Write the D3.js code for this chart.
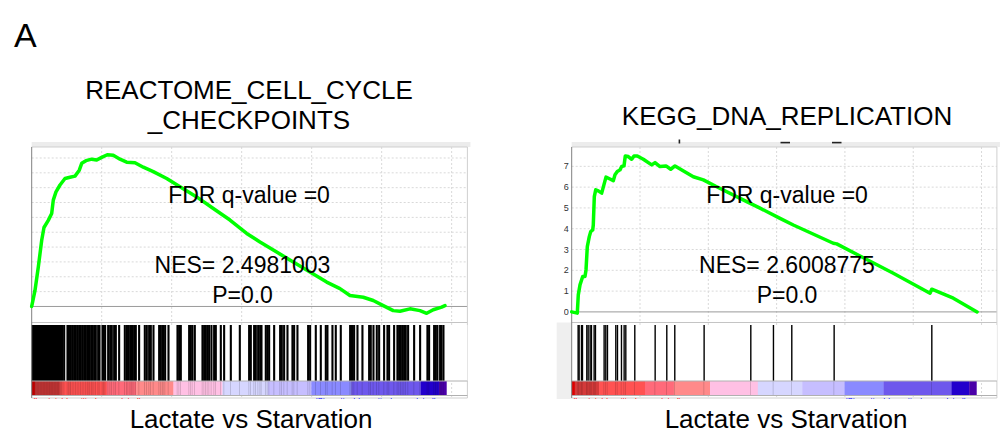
<!DOCTYPE html>
<html>
<head>
<meta charset="utf-8">
<script src="https://cdnjs.cloudflare.com/ajax/libs/d3/7.8.5/d3.min.js"></script>
<style>
  body { margin: 0; background: #fff; }
  svg { display: block; font-family: "Liberation Sans", Arial, sans-serif; }
</style>
</head>
<body>
<svg id="fig" width="1001" height="437"></svg>
<script>
// ranked list length and axis end (ranks)
const listSize = 11850;
const axisMax = 12450;

// colour band of the ranked list (same list for both plots)
const bandEdges = [0, 90, 800, 2145, 2990, 4050, 5450, 6750, 7990, 9130, 11120, 11640, 11850];
const bandColors = ['#dd0000', '#d43a3a', '#ff5252', '#ff6a7a', '#ff8a8a', '#ffc0e4',
                    '#d6d6ff', '#c6beff', '#8a8aff', '#6e58ec', '#2200cc', '#4a00a8'];

// REACTOME_CELL_CYCLE_CHECKPOINTS: running ES [rank, ES]
const esReactome = [
  [0, 0], [94, 0.054], [189, 0.133], [286, 0.223], [351, 0.266], [474, 0.29], [571, 0.313],
  [617, 0.358], [694, 0.386], [809, 0.409], [951, 0.431], [1094, 0.435], [1237, 0.439],
  [1360, 0.459], [1429, 0.482], [1551, 0.491], [1714, 0.496], [1857, 0.493], [2000, 0.502],
  [2160, 0.511], [2331, 0.509], [2523, 0.496], [2714, 0.486], [2951, 0.484], [3189, 0.469],
  [3474, 0.454], [3857, 0.431], [4237, 0.403], [4714, 0.369], [5189, 0.33], [5666, 0.291],
  [6143, 0.246], [6523, 0.217], [7000, 0.183], [7474, 0.15], [7951, 0.116], [8429, 0.082],
  [8809, 0.06], [9094, 0.037], [9474, 0.031], [9760, 0.02], [10046, 0.003], [10331, -0.014],
  [10523, -0.016], [10809, -0.008], [11094, -0.014], [11286, -0.023], [11474, -0.011],
  [11714, -0.002], [11809, 0.003]
];
const hitsReactome = [
  0, 20, 45, 70, 95, 120, 150, 175, 200, 230, 255, 280, 310, 335, 360, 390, 415, 440, 470,
  495, 520, 550, 575, 600, 630, 655, 680, 710, 735, 760, 790, 815, 830,
  857, 905, 1000, 1038, 1076, 1095, 1143, 1190, 1238, 1285, 1333, 1381, 1428, 1476, 1524,
  1571, 1600, 1638, 1686, 1714, 1762, 1809, 1876, 1914, 2000, 2038, 2076, 2162, 2219, 2266,
  2333, 2381, 2476, 2638, 2695, 2733, 2790, 2828, 2857, 2905, 2952, 3047, 3209, 3266, 3333,
  3381, 3457, 3619, 3666, 3714, 3743, 3790, 3886, 4143, 4190, 4238, 4476, 4524, 4571, 4638,
  4857, 4905, 4952, 5000, 5047, 5114, 5190, 5238, 5381, 5476, 5667, 5924, 6190, 6238, 6333,
  6381, 6448, 6505, 6543, 6666, 6714, 6762, 6905, 7076, 7124, 7190, 7286, 7428, 7476, 7571,
  7876, 7933, 8095, 8238, 8381, 8428, 8571, 8666, 8809, 9076, 9114, 9143, 9190, 9286, 9428,
  9619, 9666, 9743, 9838, 9905, 10047, 10143, 10190, 10333, 10428, 10476, 10524, 10571,
  10619, 10666, 10733, 10905, 11076, 11285, 11333, 11476, 11524, 11571, 11647, 11685, 11743
];

// KEGG_DNA_REPLICATION
const esKegg = [
  [0, 0], [164, -0.006], [193, 0.082], [243, 0.13], [322, 0.17], [389, 0.17], [419, 0.202],
  [457, 0.314], [515, 0.362], [556, 0.386], [615, 0.394], [632, 0.418], [662, 0.554],
  [703, 0.587], [779, 0.582], [878, 0.571], [925, 0.6], [1004, 0.648], [1121, 0.639],
  [1218, 0.631], [1268, 0.659], [1335, 0.675], [1414, 0.683], [1464, 0.699], [1531, 0.702],
  [1569, 0.75], [1657, 0.747], [1757, 0.734], [1824, 0.75], [1921, 0.75], [2097, 0.734],
  [2342, 0.707], [2440, 0.718], [2585, 0.699], [2761, 0.702], [2899, 0.686], [3025, 0.702],
  [3561, 0.65], [3854, 0.635], [4245, 0.602], [5124, 0.53], [5514, 0.499], [6100, 0.45],
  [6489, 0.418], [7660, 0.33], [7760, 0.327], [8442, 0.269], [9417, 0.186], [10492, 0.09],
  [10542, 0.109], [11174, 0.066], [11870, 0.0]
];
const hitsKegg = [
  165, 194, 263, 292, 419, 458, 516, 555, 633, 672, 926, 975, 1024, 1268, 1317, 1434, 1512,
  1561, 1824, 2420, 2761, 2995, 3854, 5221, 5884, 6421, 7661, 10521
];

const yTicksReactome = [0.05, 0.1, 0.15, 0.2, 0.25, 0.3, 0.35, 0.4, 0.45, 0.5];
const yTicksKegg = [0, 0.1, 0.2, 0.3, 0.4, 0.5, 0.6, 0.7];
const xTicks = [2000, 4000, 6000, 8000, 10000, 12000];

const svg = d3.select('#fig');

svg.append('text')
  .attr('x', 14).attr('y', 47)
  .attr('font-size', 34)
  .text('A');

const panels = [
  {
    id: 'reactome', left: 31.7, right: 467.4, yDomain: [-0.054, 0.537],
    es: esReactome, hits: hitsReactome, hitWidth: 2.1, yTicks: yTicksReactome, showYLabels: false,
    title: ['REACTOME_CELL_CYCLE', '_CHECKPOINTS'], titleY: [99, 128.5], titleX: 249,
    fdr: 'FDR q-value =0', nes: 'NES= 2.4981003', p: 'P=0.0', textX: [249, 242.5, 242.5]
  },
  {
    id: 'kegg', left: 571.7, right: 996.9, yDomain: [-0.051, 0.793],
    es: esKegg, hits: hitsKegg, hitWidth: 1.4, yTicks: yTicksKegg, showYLabels: true,
    title: ['KEGG_DNA_REPLICATION'], titleY: [125], titleX: 787,
    fdr: 'FDR q-value =0', nes: 'NES= 2.6008775', p: 'P=0.0', textX: [787, 787, 787]
  }
];

const esTop = 147, esBottom = 322.5, barTop = 325, barBottom = 381, bandBottom = 395.5, frameBottom = 398;

panels.forEach(cfg => {
  const g = svg.append('g').attr('id', cfg.id);
  const x = d3.scaleLinear().domain([0, axisMax]).range([cfg.left, cfg.right]);
  const y = d3.scaleLinear().domain(cfg.yDomain).range([esBottom, esTop]);

  // light band above the frame
  g.append('rect')
    .attr('x', cfg.left).attr('y', esTop - 5)
    .attr('width', cfg.right - cfg.left + 3).attr('height', 5)
    .attr('fill', '#ececec');

  if (cfg.showYLabels) {
    g.append('rect')
      .attr('x', cfg.left - 15).attr('y', esBottom)
      .attr('width', 15).attr('height', frameBottom - esBottom + 1)
      .attr('fill', '#efefef');
    // tick labels cut off by the figure crop: only the last digit shows
    const clipId = 'clip-' + cfg.id;
    g.append('clipPath').attr('id', clipId)
      .append('rect')
      .attr('x', cfg.left - 8).attr('y', esTop).attr('width', 8).attr('height', esBottom - esTop);
    g.append('g').attr('clip-path', `url(#${clipId})`)
      .selectAll('text')
      .data(cfg.yTicks)
      .join('text')
        .attr('x', cfg.left - 3)
        .attr('y', d => y(d) + 3)
        .attr('text-anchor', 'end')
        .attr('font-size', 9)
        .attr('fill', '#333')
        .text(d => d.toFixed(1));
  }

  // grid
  g.append('g')
    .selectAll('line')
    .data(xTicks)
    .join('line')
      .attr('x1', d => x(d)).attr('x2', d => x(d))
      .attr('y1', esTop).attr('y2', frameBottom)
      .attr('stroke', '#d9d9d9')
      .attr('stroke-dasharray', '2 2');
  g.append('g')
    .selectAll('line')
    .data(cfg.yTicks.filter(d => d !== 0))
    .join('line')
      .attr('x1', cfg.left).attr('x2', cfg.right)
      .attr('y1', d => y(d)).attr('y2', d => y(d))
      .attr('stroke', '#d9d9d9')
      .attr('stroke-dasharray', '2 2');

  // zero line
  g.append('line')
    .attr('x1', cfg.left).attr('x2', cfg.right)
    .attr('y1', y(0)).attr('y2', y(0))
    .attr('stroke', '#9a9a9a');

  // frame lines
  g.append('line')
    .attr('x1', cfg.left).attr('x2', cfg.right)
    .attr('y1', esBottom).attr('y2', esBottom)
    .attr('stroke', '#c4c4c4');
  g.append('line')
    .attr('x1', cfg.left).attr('x2', cfg.right)
    .attr('y1', esTop).attr('y2', esTop)
    .attr('stroke', '#cfcfcf');
  g.append('line')
    .attr('x1', cfg.right).attr('x2', cfg.right)
    .attr('y1', esTop).attr('y2', frameBottom)
    .attr('stroke', '#cfcfcf');

  // barcode
  g.append('rect')
    .attr('x', cfg.left).attr('y', barTop)
    .attr('width', cfg.right - cfg.left).attr('height', barBottom - barTop)
    .attr('fill', '#fff');
  g.append('g')
    .selectAll('line')
    .data(cfg.hits)
    .join('line')
      .attr('x1', d => x(d) + 0.8).attr('x2', d => x(d) + 0.8)
      .attr('y1', barTop).attr('y2', barBottom)
      .attr('stroke', '#000')
      .attr('stroke-width', cfg.hitWidth);

  // colour band
  g.append('g')
    .selectAll('rect')
    .data(bandColors)
    .join('rect')
      .attr('x', (d, i) => x(bandEdges[i]))
      .attr('y', barBottom)
      .attr('width', (d, i) => x(bandEdges[i + 1]) - x(bandEdges[i]) + 0.3)
      .attr('height', bandBottom - barBottom)
      .attr('fill', d => d);
  g.append('g')
    .selectAll('line')
    .data(cfg.hits)
    .join('line')
      .attr('x1', d => x(d) + 0.5).attr('x2', d => x(d) + 0.5)
      .attr('y1', barBottom).attr('y2', bandBottom)
      .attr('stroke', '#000')
      .attr('stroke-opacity', 0.14);
  g.append('line')
    .attr('x1', cfg.left).attr('x2', cfg.right)
    .attr('y1', barBottom).attr('y2', barBottom)
    .attr('stroke', '#b0b0b0');
  g.append('line')
    .attr('x1', cfg.left).attr('x2', cfg.right)
    .attr('y1', bandBottom).attr('y2', bandBottom)
    .attr('stroke', '#b0b0b0');
  g.append('line')
    .attr('x1', cfg.left).attr('x2', cfg.right)
    .attr('y1', frameBottom).attr('y2', frameBottom)
    .attr('stroke', '#d0d0d0');

  // correlation labels, almost fully hidden below the band
  const clipB = 'clipb-' + cfg.id;
  g.append('clipPath').attr('id', clipB)
    .append('rect')
    .attr('x', cfg.left).attr('y', bandBottom + 1).attr('width', cfg.right - cfg.left).attr('height', 2.5);
  const lab = g.append('g').attr('clip-path', `url(#${clipB})`).attr('font-size', 8);
  lab.append('text').attr('x', x(60)).attr('y', bandBottom + 7)
    .attr('fill', '#ff0000').text("'Lactate' (positively correlated)");
  lab.append('text').attr('x', x(listSize) - 10).attr('y', bandBottom + 7)
    .attr('text-anchor', 'end')
    .attr('fill', '#0000ff').text("'Starvation' (negatively correlated)");

  // left axis line
  g.append('line')
    .attr('x1', cfg.left).attr('x2', cfg.left)
    .attr('y1', esTop).attr('y2', frameBottom)
    .attr('stroke', '#808080');

  // running enrichment score
  g.append('path')
    .datum(cfg.es)
    .attr('d', d3.line().x(d => x(d[0])).y(d => y(d[1])))
    .attr('fill', 'none')
    .attr('stroke', '#00ff00')
    .attr('stroke-width', 3.5)
    .attr('stroke-linejoin', 'round')
    .attr('stroke-linecap', 'round');

  // titles
  cfg.title.forEach((t, i) => {
    g.append('text')
      .attr('x', cfg.titleX).attr('y', cfg.titleY[i])
      .attr('text-anchor', 'middle')
      .attr('font-size', 26)
      .text(t);
  });

  // annotations
  [[cfg.fdr, 203], [cfg.nes, 273.3], [cfg.p, 302.7]].forEach(([t, yy], i) => {
    g.append('text')
      .attr('x', cfg.textX[i]).attr('y', yy)
      .attr('text-anchor', 'middle')
      .attr('font-size', 23)
      .text(t);
  });

  g.append('text')
    .attr('x', (cfg.left + x(listSize)) / 2 + 12).attr('y', 428)
    .attr('text-anchor', 'middle')
    .attr('font-size', 26)
    .text('Lactate vs Starvation');
});

// bits of a hidden title line peeking out above the KEGG plot
svg.append('g').attr('fill', '#222')
  .selectAll('rect')
  .data([[678.6, 139.5, 1.6, 4], [780.5, 141.8, 9.5, 1.6], [832, 141.8, 9.5, 1.6]])
  .join('rect')
    .attr('x', d => d[0]).attr('y', d => d[1])
    .attr('width', d => d[2]).attr('height', d => d[3]);
</script>
</body>
</html>
